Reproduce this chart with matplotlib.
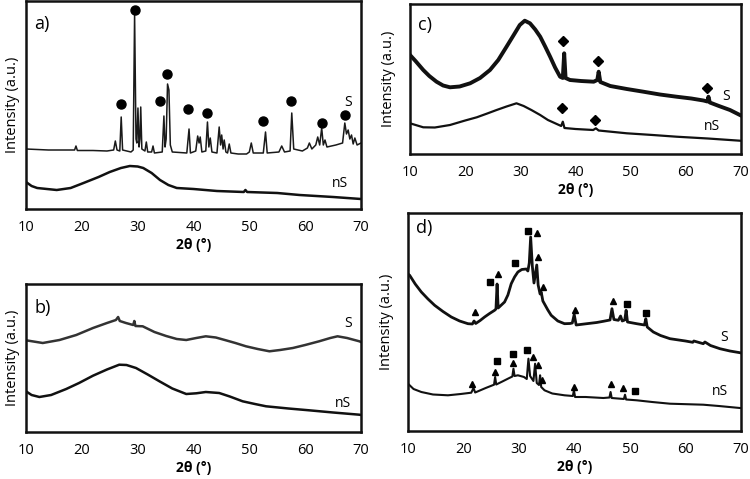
import matplotlib
matplotlib.use('Agg')
import matplotlib.pyplot as plt

plt.rcParams['font.family'] = ['Open Sans', 'DejaVu Sans']

# ---------------- data (2theta, intensity a.u.) ----------------
# panel a
a_S_x = [10, 14, 18.7, 18.95, 19.2, 22, 24.5, 25.7, 26.0, 26.3, 26.8, 27.05, 27.3, 28.8, 29.2,
         29.45, 29.7, 29.85, 30.05, 30.25, 30.4, 30.55, 30.75, 31.3, 31.55, 31.8, 32.5, 32.75,
         33.0, 34.4, 34.7, 34.9, 35.1, 35.35, 35.6, 35.85, 36.2, 38.8, 39.2, 39.45, 40.4, 40.75,
         41.0, 41.2, 41.5, 42.2, 42.5, 42.75, 43.0, 43.3, 44.2, 44.6, 44.85, 45.05, 45.3, 45.5,
         45.8, 46.1, 46.4, 46.7, 48, 49.5, 50.0, 50.35, 50.7, 52.5, 52.9, 53.2, 55.3, 55.8, 56.3,
         57.3, 57.6, 57.95, 59.5, 60.4, 60.75, 61.2, 61.9, 62.25, 62.6, 62.96, 63.25, 63.55, 63.9,
         65.5, 66.7, 67.1, 67.4, 67.7, 68.0, 68.3, 68.6, 68.9, 69.3, 70]
a_S_y = [60, 59, 59, 63, 58.5, 58.5, 58, 59, 68, 59, 58, 92, 59, 57, 59,
         195, 70, 66, 101, 62, 70, 102, 60, 58, 67, 57, 57, 63,
         56, 57, 93, 62, 70, 125, 119, 64, 57, 56, 80, 56, 58, 73,
         66, 72, 57, 58, 87, 62, 71, 57, 56, 82, 64, 74, 60, 69,
         57, 56, 65, 56, 55, 55, 57, 66, 56, 56, 77, 56, 57, 63, 57,
         58, 96, 60, 58, 61, 66, 60, 64, 72, 64, 81, 64, 69, 62,
         64, 66, 86, 75, 79, 70, 74, 65, 71, 64, 66]
a_nS_x = [10, 11, 12, 15.5, 18, 20.3, 23, 25, 27, 28.6, 30, 31, 32.5, 34, 35.5, 37, 40, 44.2,
          49, 49.3, 49.6, 55, 59, 65, 70]
a_nS_y = [27, 23, 21, 19, 21, 26, 32, 37, 41, 43, 42.5, 41, 36, 29, 24, 21, 20, 18,
          17, 19, 17, 16, 14, 12, 10]
a_dot_x = [27.0, 29.5, 34.0, 35.2, 39.1, 42.4, 52.5, 57.4, 63.0, 67.1]
a_dot_y = [105, 199, 108, 135, 100, 96, 88, 108, 86, 94]

# panel b
b_S_x = [10, 13, 16, 19, 22, 24.5, 26.1, 26.5, 26.8, 27.9, 29.2, 29.4, 29.6, 30.9, 33, 35.1,
         37, 38.7, 40.5, 42.2, 44, 45.8, 47.5, 49.4, 51.5, 53.6, 55.5, 57.8, 60, 62.5, 64.5,
         65.8, 67.5, 69.7, 70]
b_S_y = [91.7, 89, 92, 97, 104, 109, 112, 115, 111, 109, 107, 111, 106, 105.7, 100, 96,
         93, 92, 94, 95.7, 94.5, 91.7, 89, 85.7, 83, 80.7, 82, 84, 87, 90.7, 94,
         95.7, 94, 90.7, 90]
b_nS_x = [10, 11, 12.4, 14.5, 17.2, 19.5, 22, 24.5, 26.7, 28, 29.7, 31.8, 33.9, 36.2, 38.7,
          40.5, 42.2, 44.6, 46.5, 48.8, 51, 53, 57, 60.7, 65, 69.7, 70]
b_nS_y = [40.7, 37, 35, 37, 43, 49, 56.3, 62.5, 67.3, 67, 64, 57.5, 50.7, 43.5, 38,
          38.7, 40, 39, 35.5, 30.7, 28, 25.7, 23.5, 21.7, 19.5, 17.3, 17]

# panel c
c_S_x = [10, 11, 12.4, 13.5, 14.8, 16, 17.25, 19, 20.9, 22.7, 24.5, 26, 27.5, 28.8, 29.9,
         30.8, 31.75, 32.7, 33.6, 34.5, 35.4, 36.3, 37.2, 37.7, 37.95, 38.2, 39, 41, 43.3,
         43.95, 44.2, 44.5, 46.3, 49.3, 52.3, 55.3, 58.3, 61, 63.2, 63.9, 64.1, 64.35, 66,
         68, 69.8, 70]
c_S_y = [99, 93, 84, 78, 72.3, 68.5, 66.7, 67.5, 70.7, 76, 84, 94, 107.3, 119, 129,
         133.3, 130.7, 124.5, 117.3, 107.5, 97.3, 86.5, 77.3, 76, 100.7, 76, 74, 73, 72.3,
         74, 82.3, 72, 68, 65, 62.3, 59.5, 57.3, 55.5, 53.5, 52.5, 57.3, 51.5, 48,
         44, 39, 38.5]
c_nS_x = [10, 12.4, 14.5, 17.25, 20, 22.1, 24, 25.7, 27.5, 29.3, 30.6, 32, 33.6, 35, 36.6,
          37.4, 37.7, 38.0, 40, 43.2, 43.7, 44.2, 49.3, 54, 58.3, 64, 69.8, 70]
c_nS_y = [30.7, 26.7, 26.5, 29, 33.5, 36.7, 40.5, 44, 47.5, 50.7, 48, 44, 39, 34, 30,
          28, 32.3, 26, 25, 24, 25.7, 23.5, 20.7, 19, 17.3, 15.5, 13.3, 13.2]
c_dia_x = [37.8, 44.1, 63.8, 37.5, 43.6]
c_dia_y = [113.3, 93.3, 66.3, 45.7, 33.7]

# panel d
d_S_x = [10, 10.3, 11.3, 12.4, 13.6, 14.8, 16.3, 17.8, 19.3, 20.8, 21.6, 21.9, 22.2, 23, 23.8,
         24.7, 25.6, 25.85, 26.05, 26.25, 27.4, 28.0, 28.6, 29.2, 29.8, 30.5, 31.3, 31.6,
         31.85, 32.1, 32.4, 32.7, 33.2, 33.45, 33.8, 34.0, 34.3, 34.6, 35.2, 35.8, 37, 38.2,
         39.2, 39.6, 39.95, 40.3, 42.2, 44, 45.2, 46.4, 46.75, 47.1, 47.9, 48.3, 48.6, 49.05,
         49.3, 49.55, 51.2, 52.6, 52.85, 53.1, 54.2, 55.5, 57.2, 60, 61.3, 61.5, 63.2, 63.5,
         64.5, 66.2, 68, 69.8, 70]
d_S_y = [157, 155.7, 147, 139, 132, 125.7, 119.5, 114, 110, 107.3, 107, 110, 107.5, 110.5, 114,
         117.5, 120.7, 122, 147, 123, 129, 136, 147.3, 154, 159, 161.5, 162, 160,
         168, 194, 165, 148, 166, 146, 137, 139, 130, 127, 121, 115.7, 110, 107.3,
         107.5, 108, 116.5, 106, 107.3, 108.5, 109.7, 111, 122.3, 111.5, 110.7, 115, 110, 111,
         120.7, 109, 107.3, 106, 112.3, 104, 99, 95.5, 92.3, 90, 88.7, 90, 87.3, 89,
         85.5, 82.3, 80, 78.3, 78]
d_nS_x = [10, 11, 12.4, 14.5, 17.2, 19.5, 21.4, 21.8, 22.1, 24, 25.5, 25.7, 25.9, 27, 28.0,
          28.8, 29.0, 29.2, 29.8, 30.9, 31.4, 31.7, 32.0, 32.6, 32.9, 33.2, 33.6, 33.8, 34.0,
          34.6, 36, 38.2, 39.7, 39.9, 40.1, 42, 45.2, 46.3, 46.5, 46.7, 48.9, 49.1, 49.3,
          51.2, 54, 57.2, 63.2, 66, 69.8, 70]
d_nS_y = [47.3, 42, 39, 36.5, 35.7, 37, 38.3, 43, 38.5, 43, 46.3, 54, 46.5, 49.5, 52.3,
          54.5, 62.3, 55, 55.7, 54, 52, 72.3, 55, 50, 67.3, 48, 46, 55.7, 44,
          40.7, 37.5, 35.7, 35, 40.7, 34, 34, 33, 33.5, 39, 33, 32, 36.3, 31.5,
          30.7, 29, 27.3, 26.3, 25, 23, 23]
d_sq_x = [24.8, 29.2, 31.7, 49.5, 52.9, 26.0, 29.0, 31.5, 50.9]
d_sq_y = [149.3, 168.3, 199.7, 126.7, 118.3, 70, 76.7, 81, 40.3]
d_tri_x = [22.1, 26.3, 33.3, 33.5, 34.4, 40.0, 46.9, 21.6, 25.6, 29.0, 32.6, 33.5, 34.1,
           39.9, 46.6, 48.8]
d_tri_y = [119.3, 157.3, 198, 174, 144, 121, 130.3, 47, 58.7, 67.7, 73.7, 66, 51,
           44.3, 46.7, 42.7]

# ---------------- figure ----------------
W, H = 750, 479
fig = plt.figure(figsize=(7.5, 4.79), dpi=100)


def make_ax(left, top, right, bottom, ymax, tag, tag_xy, ypad):
    ax = fig.add_axes([left / W, 1 - bottom / H, (right - left) / W, (bottom - top) / H])
    ax.set_xlim(10, 70)
    ax.set_ylim(0, ymax)
    ax.set_xticks([10, 20, 30, 40, 50, 60, 70])
    ax.set_yticks([])
    ax.tick_params(axis='x', length=0, pad=8, labelsize=10.5)
    for s in ax.spines.values():
        s.set_linewidth(1.8)
        s.set_color('#111111')
    ax.set_xlabel('2θ (°)', fontsize=10, fontweight='bold', labelpad=2)
    ax.set_ylabel('Intensity (a.u.)', fontsize=10.5, labelpad=ypad)
    ax.text(tag_xy[0], tag_xy[1], tag, transform=ax.transAxes, fontsize=13, va='center', ha='left')
    return ax


ax_a = make_ax(26, 1, 361, 209, 208, 'a)', (0.025, 0.89), 4)
ax_a.plot(a_S_x, a_S_y, color='#1a1a1a', lw=1.1)
ax_a.plot(a_nS_x, a_nS_y, color='#111111', lw=1.8)
ax_a.plot(a_dot_x, a_dot_y, 'o', color='black', ms=6.5, ls='none')
ax_a.text(67.7, 107, 'S', fontsize=10, ha='center', va='center')
ax_a.text(66.2, 26, 'nS', fontsize=10, ha='center', va='center')

ax_b = make_ax(26, 284, 361, 432, 148, 'b)', (0.025, 0.84), 4)
ax_b.plot(b_S_x, b_S_y, color='#333333', lw=1.8)
ax_b.plot(b_nS_x, b_nS_y, color='#111111', lw=1.8)
ax_b.text(67.7, 108.7, 'S', fontsize=10, ha='center', va='center')
ax_b.text(66.8, 28.7, 'nS', fontsize=10, ha='center', va='center')

ax_c = make_ax(410, 4, 741, 154, 150, 'c)', (0.025, 0.86), 10)
ax_c.plot(c_S_x, c_S_y, color='#111111', lw=2.8)
ax_c.plot(c_nS_x, c_nS_y, color='#111111', lw=1.6)
ax_c.plot(c_dia_x, c_dia_y, 'D', color='black', ms=5, ls='none')
ax_c.text(67.3, 57.3, 'S', fontsize=10, ha='center', va='center')
ax_c.text(64.7, 27.3, 'nS', fontsize=10, ha='center', va='center')

ax_d = make_ax(408, 213, 741, 431, 218, 'd)', (0.025, 0.93), 10)
ax_d.plot(d_S_x, d_S_y, color='#111111', lw=2.0)
ax_d.plot(d_nS_x, d_nS_y, color='#111111', lw=1.5)
ax_d.plot(d_sq_x, d_sq_y, 's', color='black', ms=4.5, ls='none')
ax_d.plot(d_tri_x, d_tri_y, '^', color='black', ms=4.5, ls='none')
ax_d.text(67.0, 93.7, 'S', fontsize=10, ha='center', va='center')
ax_d.text(66.2, 39.3, 'nS', fontsize=10, ha='center', va='center')

fig.savefig('out.png', dpi=100)
